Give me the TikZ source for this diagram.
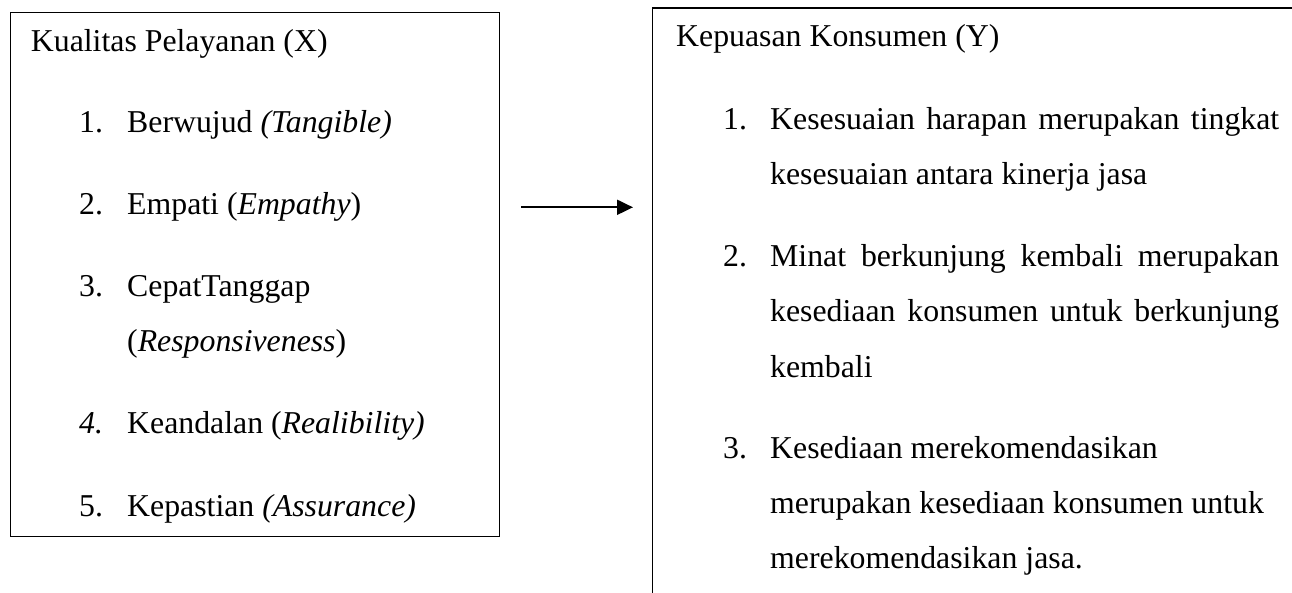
\documentclass[tikz,border=0pt]{standalone}
\usepackage{fontspec}
\setmainfont{Liberation Serif}
\usetikzlibrary{arrows.meta}
\tikzset{
  txt/.style={anchor=base west, inner sep=0pt, font=\fontsize{31.8}{38}\selectfont},
  box/.style={draw, line width=1.3pt, inner sep=0pt},
  conn/.style={line width=2pt, -{Triangle[length=16pt,width=15pt]}}
}
\begin{document}
\begin{tikzpicture}[x=1pt,y=-1pt]
\useasboundingbox (0,0) rectangle (1292,593);
% left box
\node[box, anchor=north west, minimum width=489.5pt, minimum height=524pt] (lbox) at (9.5,12) {};
\node[txt] (lt) at (30.7,52) {Kualitas Pelayanan (X)};
\node[txt] (ln1) at (79,133) {1.};
\node[txt] (li1) at (127,133) {Berwujud \textit{(Tangible)}};
\node[txt] (ln2) at (79,215) {2.};
\node[txt] (li2) at (127,215) {Empati (\textit{Empathy})};
\node[txt] (ln3) at (79,297) {3.};
\node[txt] (li3) at (127,297) {CepatTanggap};
\node[txt] (li3b) at (127,352) {(\textit{Responsiveness})};
\node[txt] (ln4) at (79,433) {\textit{4.}};
\node[txt] (li4) at (127,433) {Keandalan (\textit{Realibility)}};
\node[txt] (ln5) at (79,516) {5.};
\node[txt] (li5) at (127,516) {Kepastian \textit{(Assurance)}};
% right box (open at right and bottom, cut by page)
\coordinate (rbl) at (652.7,593);
\coordinate (rtl) at (652.7,8);
\coordinate (rtr) at (1292,8);
\draw[line width=1.3pt] (rbl) -- (rtl) -- (rtr);
\node[txt] (rt) at (676,46.7) {Kepuasan Konsumen (Y)};
\node[txt] (rn1) at (723,130) {1.};
\node[txt] (r1a) at (770,130) {\makebox[509pt][s]{Kesesuaian harapan merupakan tingkat}};
\node[txt] (r1b) at (770,185) {kesesuaian antara kinerja jasa};
\node[txt] (rn2) at (723,267) {2.};
\node[txt] (r2a) at (770,267) {\makebox[509pt][s]{Minat berkunjung kembali merupakan}};
\node[txt] (r2b) at (770,322) {\makebox[509pt][s]{kesediaan konsumen untuk berkunjung}};
\node[txt] (r2c) at (770,377) {kembali};
\node[txt] (rn3) at (723,458) {3.};
\node[txt] (r3a) at (770,458) {Kesediaan merekomendasikan};
\node[txt] (r3b) at (770,513) {merupakan kesediaan konsumen untuk};
\node[txt] (r3c) at (770,568) {merekomendasikan jasa.};
% arrow
\coordinate (as) at (521,207.3);
\coordinate (ae) at (633,207.3);
\draw[conn] (as) -- (ae);
\end{tikzpicture}
\end{document}
